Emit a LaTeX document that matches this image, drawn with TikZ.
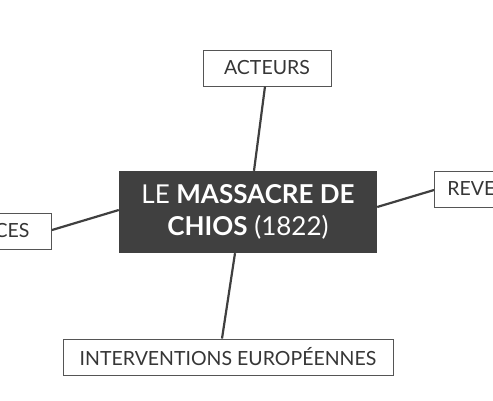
\documentclass[tikz,border=0pt]{standalone}
\usepackage{fontspec}
\setmainfont{Lato}
\usetikzlibrary{positioning}
\definecolor{cdark}{HTML}{404040}
\definecolor{cline}{HTML}{3F3F3F}
\definecolor{cedge}{HTML}{555555}
\definecolor{ctext}{HTML}{363636}
\tikzset{
  branch/.style={
    draw=cedge, fill=white, line width=0.9pt, text=ctext,
    inner sep=0pt, minimum height=36pt, font=\fontsize{19.5}{22}\selectfont
  },
  core/.style={
    fill=cdark, draw=none, text=white, align=center,
    minimum width=258pt, minimum height=82pt,
    font=\fontsize{26}{32}\selectfont
  },
  link/.style={draw=cline, line width=2.2pt}
}
\begin{document}
\begin{tikzpicture}[x=1pt,y=-1pt]
  \useasboundingbox (0,0) rectangle (493,400);
  \begin{scope}
  \clip (0,0) rectangle (493,400);
  \node[core] (chios) at (248,212)
    {LE \textbf{MASSACRE DE}\\\textbf{CHIOS} (1822)};
  \node[branch,minimum width=128pt] (acteurs) at (267,68) {ACTEURS};
  \node[branch,minimum width=330pt] (europe) at (228,357)
    {INTERVENTIONS EUROPÉENNES};
  \node[branch,anchor=east,text width=120pt,align=right] (cons) at (52,231)
    {CES\hspace*{22pt}};
  \node[branch,anchor=west,text width=120pt,align=left] (reve) at (434,189)
    {\hspace*{13pt}REVE};
  % liens vers le noeud central
  \draw[link] (acteurs.south -| 265,0) -- (chios.north -| 254,0);
  \draw[link] (chios.south -| 235,0) -- (europe.north -| 222,0);
  \draw[link] (cons.east |- 0,230) -- (chios.west |- 0,210);
  \draw[link] (chios.east |- 0,207) -- (reve.west |- 0,190);
  \end{scope}
\end{tikzpicture}
\end{document}
